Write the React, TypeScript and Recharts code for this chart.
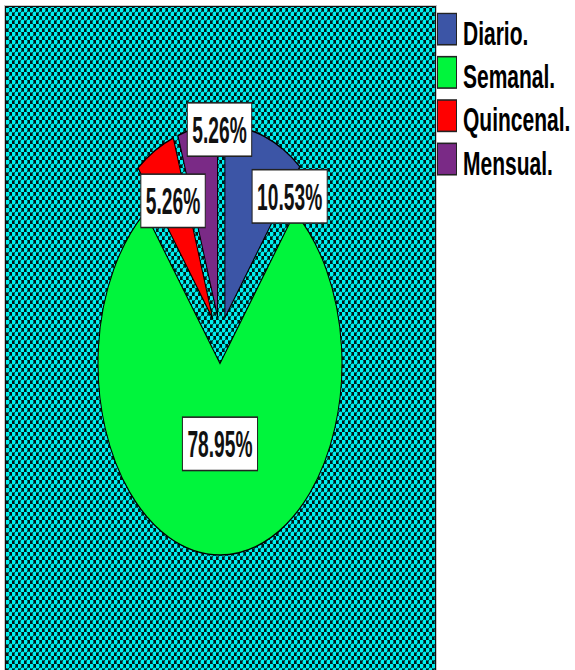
import { PieChart, Pie, Cell, Legend, Sector } from "recharts";

// frecuencia de pago, porcentaje por categoría
const categories = ["Diario.", "Semanal.", "Quincenal.", "Mensual."];
const shares = [10.53, 78.95, 5.26, 5.26];
const sliceColors = ["#3c55a6", "#00f53c", "#ff0000", "#7a2a86"];

// nudges for the boxed labels, relative to their radial anchor
const labelNudge: [number, number][] = [
  [41, -8],
  [0, -22],
  [-5, -11],
  [14, -47],
];

const data = categories.map((name, i) => ({ name, value: shares[i] }));

const WIDTH = 575;
const HEIGHT = 670;
const STRETCH = 1.57;
const INNER_H = Math.round(HEIGHT / STRETCH);
const EXPLODE = 15;
const RADIUS = 122;
const RAD = Math.PI / 180;
const FONT = "'Liberation Sans', Arial, sans-serif";

const polar = (cx: number, cy: number, r: number, angle: number) => ({
  x: cx + r * Math.cos(-angle * RAD),
  y: cy + r * Math.sin(-angle * RAD),
});

// every slice is pulled out along its bisector
const ExplodedSector = (props: any) => {
  const { cx, cy, midAngle } = props;
  const p = polar(cx, cy, EXPLODE, midAngle);
  return <Sector {...props} cx={p.x} cy={p.y} stroke="#000" strokeWidth={1} />;
};

const charWidth = (ch: string) => (ch === "." ? 0.278 : ch === "%" ? 0.889 : 0.556);

const renderLabel = (props: any) => {
  const { cx, cy, midAngle, outerRadius, value, index } = props;
  const c = polar(cx, cy, EXPLODE, midAngle);
  const base = polar(c.x, c.y, outerRadius * 0.6, midAngle);
  const x = base.x + labelNudge[index][0];
  const y = base.y + labelNudge[index][1];
  const text = `${value.toFixed(2)}%`;
  const fontSize = 24;
  const squeeze = 0.8;
  const textW = text.split("").reduce((s, ch) => s + charWidth(ch), 0) * fontSize * squeeze;
  const boxW = textW + 10;
  const boxH = 34;
  return (
    <g>
      <rect
        x={x - boxW / 2}
        y={y - boxH / 2}
        width={boxW}
        height={boxH}
        fill="#fff"
        stroke="#222"
        strokeWidth={1}
      />
      <text
        transform={`translate(${x},${y + 8.6}) scale(${squeeze},1)`}
        textAnchor="middle"
        fontFamily={FONT}
        fontWeight="bold"
        fontSize={fontSize}
        fill="#111"
      >
        {text}
      </text>
    </g>
  );
};

const renderLegend = (props: any) => {
  const payload = [...(props.payload ?? [])].sort(
    (a: any, b: any) => categories.indexOf(a.value) - categories.indexOf(b.value)
  );
  return (
    <svg width={138} height={120}>
      {payload.map((entry: any, i: number) => (
        <g key={entry.value} transform={`translate(0, ${i * 27.6})`}>
          <rect x={0.5} y={0.5} width={19} height={20} fill={entry.color} stroke="#222" />
          <text x={26} y={20.5} fontFamily={FONT} fontWeight="bold" fontSize={21} fill="#000">
            {entry.value}
          </text>
        </g>
      ))}
    </svg>
  );
};

export default function App() {
  return (
    <div
      style={{
        position: "absolute",
        left: 0,
        top: 0,
        width: WIDTH,
        height: HEIGHT,
        overflow: "hidden",
        background: "#fff",
      }}
    >
      <svg width={WIDTH} height={HEIGHT} style={{ position: "absolute", left: 0, top: 0 }}>
        <defs>
          <pattern id="mesh" width={6} height={8} patternUnits="userSpaceOnUse">
            <rect width={6} height={8} fill="#001818" />
            <ellipse cx={1.5} cy={2} rx={2} ry={2.6} fill="#00f0f0" />
            <ellipse cx={4.5} cy={6} rx={2} ry={2.6} fill="#00f0f0" />
          </pattern>
        </defs>
        <rect x={4.5} y={5.5} width={432} height={680} fill="none" stroke="#c8c8c8" />
        <rect x={5.5} y={6.5} width={430} height={680} fill="url(#mesh)" stroke="#111" />
      </svg>
      <div
        style={{
          position: "absolute",
          left: 0,
          top: 0,
          width: WIDTH,
          height: INNER_H,
          transform: `scaleY(${STRETCH})`,
          transformOrigin: "0 0",
        }}
      >
        <PieChart width={WIDTH} height={INNER_H}>
          <Pie
            data={data}
            dataKey="value"
            nameKey="name"
            cx={215}
            cy={211.5}
            outerRadius={RADIUS}
            startAngle={90}
            endAngle={-270}
            stroke="#000"
            shape={ExplodedSector}
            label={renderLabel}
            labelLine={false}
            isAnimationActive={false}
          >
            {data.map((d, i) => (
              <Cell key={d.name} fill={sliceColors[i]} />
            ))}
          </Pie>
          <Legend
            layout="vertical"
            align="right"
            verticalAlign="top"
            content={renderLegend}
            wrapperStyle={{ left: 437, top: 8, width: 138 }}
          />
        </PieChart>
      </div>
    </div>
  );
}
